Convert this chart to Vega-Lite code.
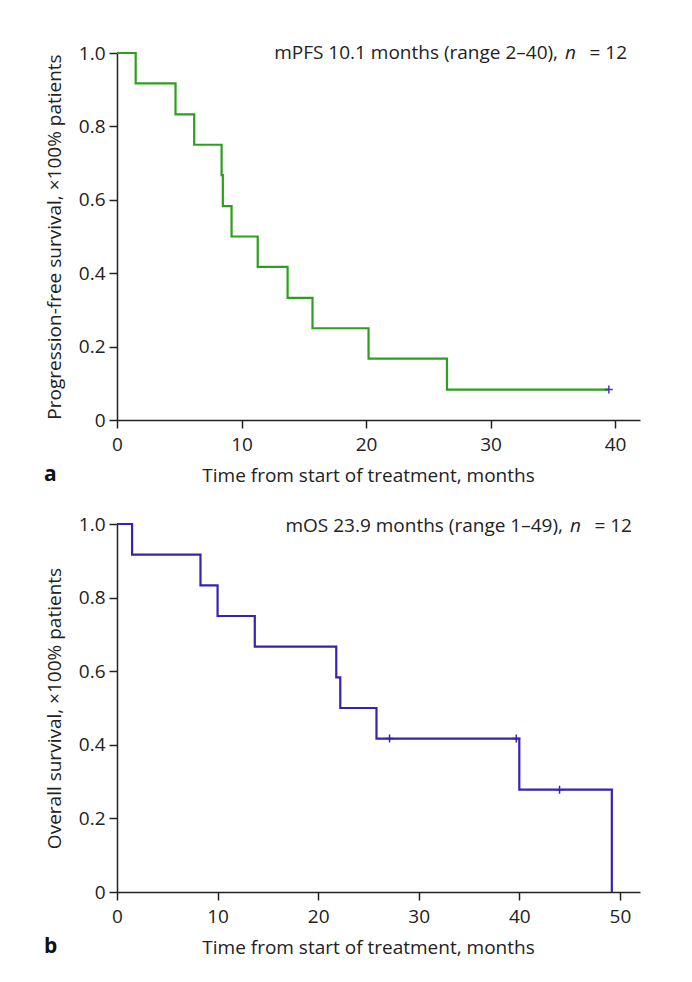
{
  "$schema": "https://vega.github.io/schema/vega-lite/v6.json",
  "background": "white",
  "padding": {"left": 44, "top": 44, "right": 50, "bottom": 20},
  "spacing": 104,
  "bounds": "flush",
  "datasets": {
    "pfs": [
      {"t": 0, "s": 1.0},
      {"t": 1.5, "s": 0.917},
      {"t": 4.7, "s": 0.833},
      {"t": 6.2, "s": 0.75},
      {"t": 8.4, "s": 0.667},
      {"t": 8.5, "s": 0.583},
      {"t": 9.2, "s": 0.5},
      {"t": 11.3, "s": 0.417},
      {"t": 13.7, "s": 0.333},
      {"t": 15.7, "s": 0.25},
      {"t": 20.2, "s": 0.167},
      {"t": 26.5, "s": 0.083},
      {"t": 39.5, "s": 0.083}
    ],
    "pfsCens": [{"t": 39.5, "s": 0.083}],
    "os": [
      {"t": 0, "s": 1.0},
      {"t": 1.5, "s": 0.917},
      {"t": 8.3, "s": 0.833},
      {"t": 10.0, "s": 0.75},
      {"t": 13.7, "s": 0.667},
      {"t": 21.8, "s": 0.583},
      {"t": 22.2, "s": 0.5},
      {"t": 25.8, "s": 0.417},
      {"t": 40.0, "s": 0.278},
      {"t": 49.2, "s": 0.0}
    ],
    "osCens": [
      {"t": 27.1, "s": 0.417},
      {"t": 39.7, "s": 0.417},
      {"t": 44.0, "s": 0.278}
    ],
    "noteA": [{"x": 40.96, "y": 0.983, "t1": "mPFS 10.1 months (range 2–40),", "t2": "n", "t3": "= 12"}],
    "noteB": [{"x": 51.2, "y": 0.977, "t1": "mOS 23.9 months (range 1–49),", "t2": "n", "t3": "= 12"}]
  },
  "vconcat": [
    {
      "width": 523,
      "height": 367,
      "title": {"text": "a", "orient": "bottom", "anchor": "start", "frame": "group", "fontWeight": "bold", "fontSize": 21, "font": "Open Sans", "color": "#111", "dx": -73, "offset": -21},
      "layer": [
        {
          "data": {"name": "pfs"},
          "mark": {"type": "line", "interpolate": "step-after", "color": "#2ca01c", "strokeWidth": 2.2},
          "encoding": {
            "x": {"field": "t", "type": "quantitative", "scale": {"domain": [0, 42], "nice": false},
                  "axis": {"values": [0, 10, 20, 30, 40], "title": "Time from start of treatment, months", "titleX": 251}},
            "y": {"field": "s", "type": "quantitative", "scale": {"domain": [0, 1], "nice": false},
                  "axis": {"values": [0, 0.2, 0.4, 0.6, 0.8, 1.0], "labelExpr": "datum.value == 0 ? '0' : format(datum.value, '.1f')", "title": "Progression-free survival, ×100% patients"}}
          }
        },
        {
          "data": {"name": "pfsCens"},
          "mark": {"type": "point", "shape": "M0,-1V1M-1,0H1", "size": 64, "filled": false, "color": "#4a30c8", "strokeWidth": 1.5, "opacity": 1},
          "encoding": {"x": {"field": "t", "type": "quantitative"}, "y": {"field": "s", "type": "quantitative"}}
        },
        {
          "data": {"name": "noteA"},
          "mark": {"type": "text", "align": "right", "baseline": "alphabetic", "font": "Open Sans", "fontSize": 19, "color": "#222", "dx": -69},
          "encoding": {"x": {"field": "x", "type": "quantitative"}, "y": {"field": "y", "type": "quantitative"}, "text": {"field": "t1"}}
        },
        {
          "data": {"name": "noteA"},
          "mark": {"type": "text", "align": "right", "baseline": "alphabetic", "font": "Open Sans", "fontSize": 19, "fontStyle": "italic", "color": "#222", "dx": -51},
          "encoding": {"x": {"field": "x", "type": "quantitative"}, "y": {"field": "y", "type": "quantitative"}, "text": {"field": "t2"}}
        },
        {
          "data": {"name": "noteA"},
          "mark": {"type": "text", "align": "right", "baseline": "alphabetic", "font": "Open Sans", "fontSize": 19, "color": "#222"},
          "encoding": {"x": {"field": "x", "type": "quantitative"}, "y": {"field": "y", "type": "quantitative"}, "text": {"field": "t3"}}
        }
      ]
    },
    {
      "width": 523,
      "height": 368,
      "title": {"text": "b", "orient": "bottom", "anchor": "start", "frame": "group", "fontWeight": "bold", "fontSize": 21, "font": "Open Sans", "color": "#111", "dx": -73, "offset": -21},
      "layer": [
        {
          "data": {"name": "os"},
          "mark": {"type": "line", "interpolate": "step-after", "color": "#3a20b4", "strokeWidth": 2.2},
          "encoding": {
            "x": {"field": "t", "type": "quantitative", "scale": {"domain": [0, 52], "nice": false},
                  "axis": {"values": [0, 10, 20, 30, 40, 50], "title": "Time from start of treatment, months", "titleX": 251}},
            "y": {"field": "s", "type": "quantitative", "scale": {"domain": [0, 1], "nice": false},
                  "axis": {"values": [0, 0.2, 0.4, 0.6, 0.8, 1.0], "labelExpr": "datum.value == 0 ? '0' : format(datum.value, '.1f')", "title": "Overall survival, ×100% patients"}}
          }
        },
        {
          "data": {"name": "osCens"},
          "mark": {"type": "point", "shape": "M0,-1V1M-1,0H1", "size": 64, "filled": false, "color": "#3a20b4", "strokeWidth": 1.5, "opacity": 1},
          "encoding": {"x": {"field": "t", "type": "quantitative"}, "y": {"field": "s", "type": "quantitative"}}
        },
        {
          "data": {"name": "noteB"},
          "mark": {"type": "text", "align": "right", "baseline": "alphabetic", "font": "Open Sans", "fontSize": 19, "color": "#222", "dx": -69},
          "encoding": {"x": {"field": "x", "type": "quantitative"}, "y": {"field": "y", "type": "quantitative"}, "text": {"field": "t1"}}
        },
        {
          "data": {"name": "noteB"},
          "mark": {"type": "text", "align": "right", "baseline": "alphabetic", "font": "Open Sans", "fontSize": 19, "fontStyle": "italic", "color": "#222", "dx": -51},
          "encoding": {"x": {"field": "x", "type": "quantitative"}, "y": {"field": "y", "type": "quantitative"}, "text": {"field": "t2"}}
        },
        {
          "data": {"name": "noteB"},
          "mark": {"type": "text", "align": "right", "baseline": "alphabetic", "font": "Open Sans", "fontSize": 19, "color": "#222"},
          "encoding": {"x": {"field": "x", "type": "quantitative"}, "y": {"field": "y", "type": "quantitative"}, "text": {"field": "t3"}}
        }
      ]
    }
  ],
  "config": {
    "view": {"stroke": null},
    "axis": {
      "grid": false,
      "domainColor": "#222", "domainWidth": 1.5,
      "tickColor": "#222", "tickWidth": 1.5, "tickSize": 8,
      "labelFont": "Open Sans", "labelFontSize": 19, "labelColor": "#222", "labelPadding": 7, "labelFlush": false, "labelOverlap": false,
      "titleFont": "Open Sans", "titleFontSize": 19, "titleFontWeight": "normal", "titleColor": "#222", "titlePadding": 12
    },
    "axisY": {"labelPadding": 4, "titlePadding": 14}
  }
}
